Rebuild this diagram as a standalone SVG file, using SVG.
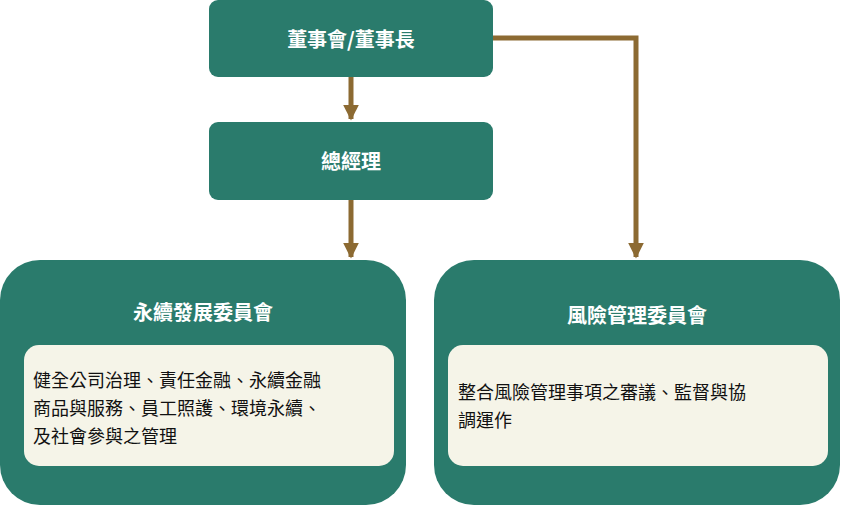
<svg xmlns="http://www.w3.org/2000/svg" width="841" height="506" viewBox="0 0 841 506">
<style>
.box{fill:#2a7b6c}
.inner{fill:#f5f4e8}
.t{font-family:"Noto Sans CJK TC","Noto Sans CJK SC",sans-serif;fill:#fff;font-weight:bold;font-size:20px;text-anchor:middle}
.b{font-family:"Noto Sans CJK TC","Noto Sans CJK SC",sans-serif;fill:#111;font-size:18px}
.c{fill:none;stroke:#8c6a32;stroke-width:5}
</style>
<defs><marker id="ah" viewBox="0 0 10 10" refX="9" refY="5" markerWidth="3.2" markerHeight="3.2" orient="auto" markerUnits="strokeWidth"><path d="M0,0L10,5L0,10z" fill="#8c6a32"/></marker></defs>
<g id="connectors">
<path class="c" d="M351,77V119" marker-end="url(#ah)"/>
<path class="c" d="M351,200V257" marker-end="url(#ah)"/>
<path class="c" d="M493,38H636V257" marker-end="url(#ah)"/>
</g>
<g id="board"><rect class="box" x="209" y="0" width="284" height="77" rx="9"/><text class="t" x="351" y="47">董事會/董事長</text></g>
<g id="gm"><rect class="box" x="209" y="122" width="284" height="78" rx="9"/><text class="t" x="351" y="169">總經理</text></g>
<g id="sustain"><rect class="box" x="0" y="260" width="406" height="245" rx="40"/><text class="t" x="203" y="320">永續發展委員會</text>
<rect class="inner" x="24" y="345" width="370" height="121" rx="15"/>
<text class="b" x="33" y="387">健全公司治理、責任金融、永續金融</text>
<text class="b" x="33" y="415">商品與服務、員工照護、環境永續、</text>
<text class="b" x="33" y="443">及社會參與之管理</text></g>
<g id="risk"><rect class="box" x="434" y="260" width="406" height="245" rx="40"/><text class="t" x="637" y="323">風險管理委員會</text>
<rect class="inner" x="448" y="345" width="380" height="121" rx="15"/>
<text class="b" x="458" y="399">整合風險管理事項之審議、監督與協</text>
<text class="b" x="458" y="427">調運作</text></g>
</svg>
